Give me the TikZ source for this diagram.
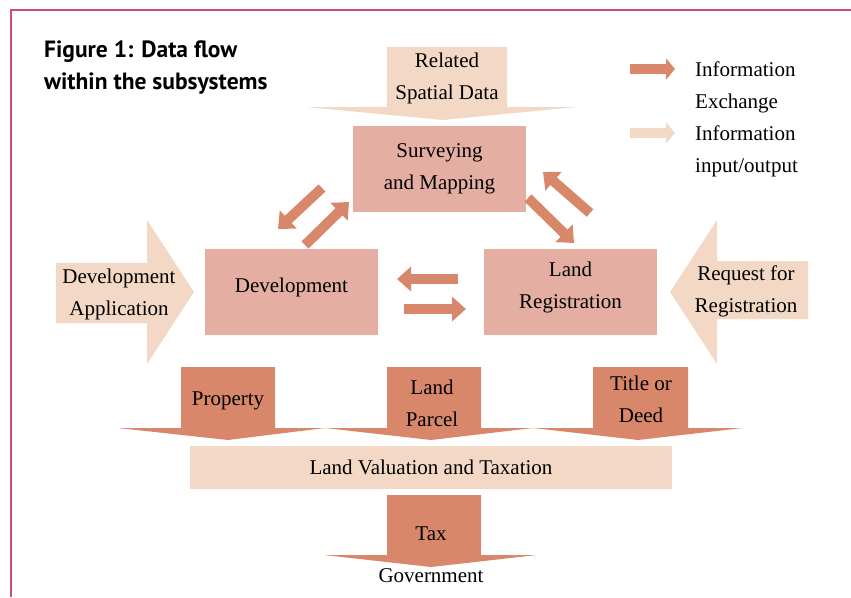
\documentclass[tikz,border=0pt]{standalone}
\usepackage{fontspec}
\setmainfont{Liberation Serif}
\newfontfamily\titlefont{PT Sans}
\usetikzlibrary{arrows.meta}
\definecolor{boxpink}{HTML}{E4AFA2}
\definecolor{darkorange}{HTML}{D9876A}
\definecolor{lightpeach}{HTML}{F3D9C5}
\definecolor{framered}{HTML}{C9506F}
\tikzset{
  txt/.style={align=center,inner sep=0pt,font=\fontsize{21}{32}\selectfont},
  box/.style={txt,fill=boxpink,minimum width=173pt,minimum height=86pt},
  lifted/.style={text depth=13pt},
  xchg/.style={draw=darkorange,line width=10pt,-{Triangle[length=14pt,width=24pt]}},
  legarrow/.style={line width=10pt,-{Triangle[length=9pt,width=21pt]}},
}
\begin{document}
\begin{tikzpicture}[x=1pt,y=-1pt]
\useasboundingbox (0,0) rectangle (851,597);
%frame
\draw[framered,line width=2pt] (11,597) -- (11,10) -- (851,10);
\node[anchor=north west,align=left,inner sep=0pt,font=\titlefont\bfseries\fontsize{23.5}{32}\selectfont] (title) at (44,41) {Figure 1: Data flow\\within the subsystems};
%legend
\coordinate (lg1) at (630,69);
\coordinate (lg2) at (675,69);
\coordinate (lg3) at (630,133);
\coordinate (lg4) at (675,133);
\draw[legarrow,darkorange] (lg1) -- (lg2);
\draw[legarrow,lightpeach] (lg3) -- (lg4);
\node[txt,align=left,anchor=north west] (legx) at (695,62) {Information\\Exchange};
\node[txt,align=left,anchor=north west] (legio) at (695,126) {Information\\input/output};
%input/output arrows
\fill[lightpeach] (387,47) -- (507,47) -- (507,107) -- (577,107) -- (443,120) -- (306,107) -- (387,107) -- cycle;
\node[txt] (spatial) at (447,78) {Related\\Spatial Data};
\fill[lightpeach] (56,263) -- (147,263) -- (147,220) -- (194,292) -- (147,364) -- (147,323) -- (56,323) -- cycle;
\node[txt] (devapp) at (119,294) {Development\\Application};
\fill[lightpeach] (808,261) -- (717,261) -- (717,220) -- (670,292) -- (717,364) -- (717,319) -- (808,319) -- cycle;
\node[txt] (request) at (746,291) {Request for\\Registration};
%subsystems
\node[box] (survey) at (439.5,169) {Surveying\\and Mapping};
\node[box,lifted] (dev) at (291.5,292) {Development};
\node[box,lifted] (reg) at (570.5,292) {Land\\Registration};
%exchange
\coordinate (sd1) at (322,188);
\coordinate (sd2) at (278,229);
\coordinate (ds1) at (305,245);
\coordinate (ds2) at (349,202);
\coordinate (sr1) at (528,198);
\coordinate (sr2) at (574,243);
\coordinate (rs1) at (590,213);
\coordinate (rs2) at (543,172);
\coordinate (rd1) at (458,279);
\coordinate (rd2) at (397,279);
\coordinate (dr1) at (404,309);
\coordinate (dr2) at (466,309);
\draw[xchg] (sd1) -- (sd2);
\draw[xchg] (ds1) -- (ds2);
\draw[xchg] (sr1) -- (sr2);
\draw[xchg] (rs1) -- (rs2);
\draw[xchg] (rd1) -- (rd2);
\draw[xchg] (dr1) -- (dr2);
%valuation inputs
\fill[darkorange] (181,367) -- (275,367) -- (275,428) -- (325,428) -- (228,440) -- (118,428) -- (181,428) -- cycle;
\node[txt] (property) at (228,401) {Property};
\fill[darkorange] (387,367) -- (481,367) -- (481,428) -- (533,428) -- (431,440) -- (325,428) -- (387,428) -- cycle;
\node[txt] (parcel) at (432,403) {Land\\Parcel};
\fill[darkorange] (593,367) -- (688,367) -- (688,428) -- (743,428) -- (638,440) -- (533,428) -- (593,428) -- cycle;
\node[txt] (deed) at (641,399) {Title or\\Deed};
\node[txt,fill=lightpeach,minimum width=482pt,minimum height=43pt] (valuation) at (431,467.5) {Land Valuation and Taxation};
%tax
\fill[darkorange] (387,495) -- (481,495) -- (481,555) -- (537,555) -- (431,567) -- (324,555) -- (387,555) -- cycle;
\node[txt] (tax) at (431,534) {Tax};
\node[txt] (gov) at (431,576) {Government};
\end{tikzpicture}
\end{document}
